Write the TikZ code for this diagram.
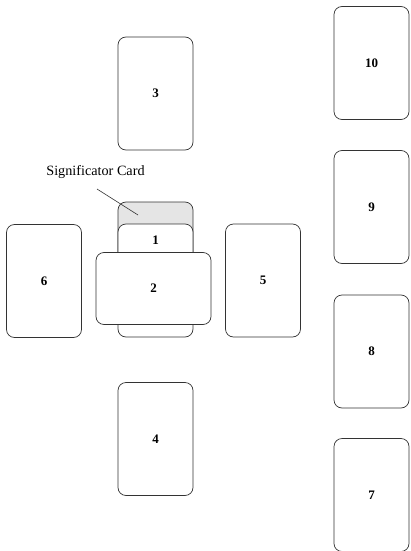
\documentclass[tikz,border=0pt]{standalone}
\usepackage{fontspec}
\setmainfont{Liberation Serif}
\begin{document}
\begin{tikzpicture}[x=1pt,y=-1pt,
  card/.style={draw=black!80, line width=0.7pt, rounded corners=8pt, fill=white,
    minimum width=75pt, minimum height=113pt, inner sep=0pt,
    font=\bfseries\fontsize{13}{15}\selectfont},
  hcard/.style={card, minimum width=115pt, minimum height=72pt},
  lbl/.style={font=\bfseries\fontsize{13}{15}\selectfont, inner sep=0pt}]
\useasboundingbox (0,0) rectangle (410,551);
\node[card] (c3) at (155.5,93.5) {3};
\node[card] (c4) at (155.5,439) {4};
\node[card] (c5) at (263,280.5) {5};
\node[card] (c6) at (44,281) {6};
\node[card] (c10) at (371.5,63) {10};
\node[card] (c9) at (371.5,207) {9};
\node[card] (c8) at (371.5,351.5) {8};
\node[card] (c7) at (371.5,495) {7};
\node[card, fill=black!10] (sig) at (155.5,258.5) {};
\node[card] (c1) at (155.5,280.5) {};
\node[lbl] (n1) at (155.5,240) {1};
\node[hcard] (c2) at (153.5,288.5) {2};
\node[font=\fontsize{14.2}{16}\selectfont, inner sep=0pt] (sigtext) at (95.5,172) {Significator Card};
\coordinate (la) at (97,189);
\coordinate (lb) at (138,215);
\draw[black!80, line width=0.6pt] (la) -- (lb);
\end{tikzpicture}
\end{document}
